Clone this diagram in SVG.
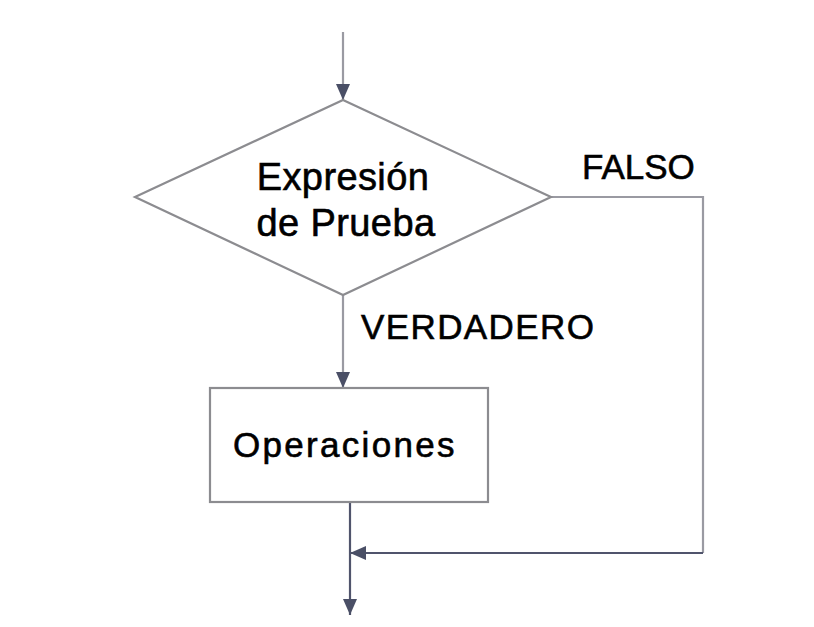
<svg xmlns="http://www.w3.org/2000/svg" width="814" height="627" viewBox="0 0 814 627">
<style>
.shape{fill:#ffffff;stroke:#8c8c90;stroke-width:2.2}
.lbl{font-family:"Liberation Sans",Arial,sans-serif;fill:#000000;stroke:#000000;stroke-width:0.6}
.conn{fill:none;stroke-width:2.2}
.light{stroke:#9a9aa2}
.dark{stroke:#50546c}
</style>
<defs>
<marker id="ah" markerUnits="userSpaceOnUse" markerWidth="16" markerHeight="18" viewBox="0 0 16 18" refX="16" refY="9" orient="auto">
<path d="M0,2 L16,9 L0,16 Z" fill="#4a4f66"/>
</marker>
</defs>
<rect width="814" height="627" fill="#ffffff"/>
<g id="connectors">
<line class="conn light" x1="343" y1="32" x2="343" y2="100" marker-end="url(#ah)"/>
<line class="conn light" x1="343" y1="295" x2="343" y2="388" marker-end="url(#ah)"/>
<polyline class="conn light" points="551,197 703,197 703,553"/>
<polyline class="conn dark" points="703,553 350,553" marker-end="url(#ah)"/>
<line class="conn dark" x1="350" y1="502" x2="350" y2="615" marker-end="url(#ah)"/>
</g>
<g id="decision">
<polygon class="shape" points="343,100 551,197 343,295 135,197"/>
<text class="lbl" x="343" y="190" font-size="38" letter-spacing="0.4" text-anchor="middle">Expresión</text>
<text class="lbl" x="346" y="236" font-size="38" letter-spacing="0.4" text-anchor="middle">de Prueba</text>
</g>
<g id="operaciones">
<rect class="shape" x="210" y="388" width="278" height="114"/>
<text class="lbl" x="233" y="457" font-size="35" letter-spacing="2.3">Operaciones</text>
</g>
<g id="labels">
<text class="lbl" x="582" y="179" font-size="35">FALSO</text>
<text class="lbl" x="361" y="339" font-size="35" letter-spacing="1.4">VERDADERO</text>
</g>
</svg>
